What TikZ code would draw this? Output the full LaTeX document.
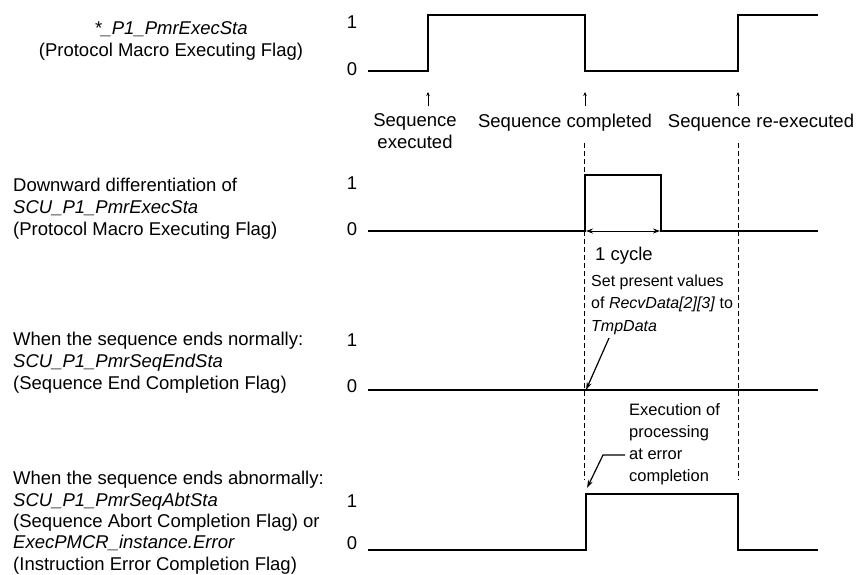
\documentclass[tikz,border=0pt]{standalone}
\usepackage{fontspec}
\setmainfont{Liberation Sans}
\usetikzlibrary{arrows.meta}
\begin{document}
\begin{tikzpicture}[x=1pt,y=-1pt,
  wave/.style={line width=1.5pt, line join=miter},
  dashline/.style={line width=1pt, dash pattern=on 5pt off 3pt},
  lbl/.style={font=\fontsize{18.5}{22}\selectfont, inner sep=0pt},
  lblt/.style={font=\fontsize{18.5}{21.3}\selectfont, inner sep=0pt},
  ann/.style={font=\fontsize{16}{22.5}\selectfont, inner sep=0pt},
  annt/.style={font=\fontsize{16.5}{21.7}\selectfont, inner sep=0pt},
  lev/.style={font=\fontsize{18.5}{22}\selectfont, inner sep=0pt, anchor=center},
  uparrow/.style={line width=0.8pt, -{Stealth[length=4pt,width=3.5pt]}},
  pointer/.style={line width=1.2pt, -{Stealth[length=8pt,width=5pt]}},
  cyc/.style={line width=1pt, {Stealth[length=7pt,width=5pt]}-{Stealth[length=7pt,width=5pt]}},
]
\useasboundingbox (0,0) rectangle (858,574);

% ---------- left labels (anchor = baseline of last line) ----------
\node[lbl, align=center, anchor=base] (t1) at (171,56)
  {\textit{*\_P1\_PmrExecSta}\\(Protocol Macro Executing Flag)};
\node[lbl, align=left, anchor=base west] (t2) at (13,235)
  {Downward differentiation of\\\textit{SCU\_P1\_PmrExecSta}\\(Protocol Macro Executing Flag)};
\node[lbl, align=left, anchor=base west] (t3) at (13,389)
  {When the sequence ends normally:\\\textit{SCU\_P1\_PmrSeqEndSta}\\(Sequence End Completion Flag)};
\node[lblt, align=left, anchor=base west] (t4) at (13,570)
  {When the sequence ends abnormally:\\\textit{SCU\_P1\_PmrSeqAbtSta}\\(Sequence Abort Completion Flag) or\\\textit{ExecPMCR\_instance.Error}\\(Instruction Error Completion Flag)};

% ---------- level labels ----------
\node[lev] (h1) at (352,22) {1};
\node[lev] (l1) at (352,69) {0};
\node[lev] (h2) at (352,183) {1};
\node[lev] (l2) at (352,229) {0};
\node[lev] (h3) at (352,340) {1};
\node[lev] (l3) at (352,386) {0};
\node[lev] (h4) at (352,501) {1};
\node[lev] (l4) at (352,543) {0};

% ---------- dashed guide lines ----------
\coordinate (dA1) at (584,143);
\coordinate (dA2) at (584,480);
\coordinate (dB1) at (738,143);
\coordinate (dB2) at (738,480);
\draw[dashline] (dA1) -- (dA2);
\draw[dashline] (dB1) -- (dB2);

% ---------- waveforms ----------
\draw[wave] (368,71) -- (428,71) -- (428,15) -- (585,15) -- (585,71) -- (738,71) -- (738,15) -- (818,15);
\draw[wave] (368,231) -- (585,231) -- (585,175) -- (661,175) -- (661,231) -- (818,231);
\draw[wave] (368,390) -- (818,390);
\draw[wave] (368,550) -- (586,550) -- (586,494) -- (738,494) -- (738,550) -- (818,550);

% ---------- event arrows and labels ----------
\coordinate (u1a) at (428,106); \coordinate (u1b) at (428,92);
\coordinate (u2a) at (585,106); \coordinate (u2b) at (585,92);
\coordinate (u3a) at (738,106); \coordinate (u3b) at (738,92);
\draw[uparrow] (u1a) -- (u1b);
\draw[uparrow] (u2a) -- (u2b);
\draw[uparrow] (u3a) -- (u3b);
\node[lblt, align=center, anchor=base] (e1) at (415,148) {Sequence\\executed};
\node[lbl, anchor=base] (e2) at (565,127) {Sequence completed};
\node[lbl, anchor=base] (e3) at (761,127) {Sequence re-executed};

% ---------- 1 cycle ----------
\coordinate (c1) at (586,231);
\coordinate (c2) at (660,231);
\draw[cyc] (c1) -- (c2);
\node[lbl, anchor=base west] (cy) at (595,260) {1 cycle};

\node[ann, align=left, anchor=base west] (sp) at (591,331)
  {Set present values\\of \textit{RecvData[2][3]} to\\\textit{TmpData}};
\coordinate (p1a) at (609,338);
\coordinate (p1b) at (586,390);
\draw[pointer] (p1a) -- (p1b);

% ---------- execution of processing at error ----------
\node[annt, align=left, anchor=base west] (ex) at (629,481)
  {Execution of\\processing\\at error\\completion};
\coordinate (p2a) at (625,455);
\coordinate (p2b) at (603,455);
\coordinate (p2c) at (587,488);
\draw[pointer] (p2a) -- (p2b) -- (p2c);
\end{tikzpicture}
\end{document}
